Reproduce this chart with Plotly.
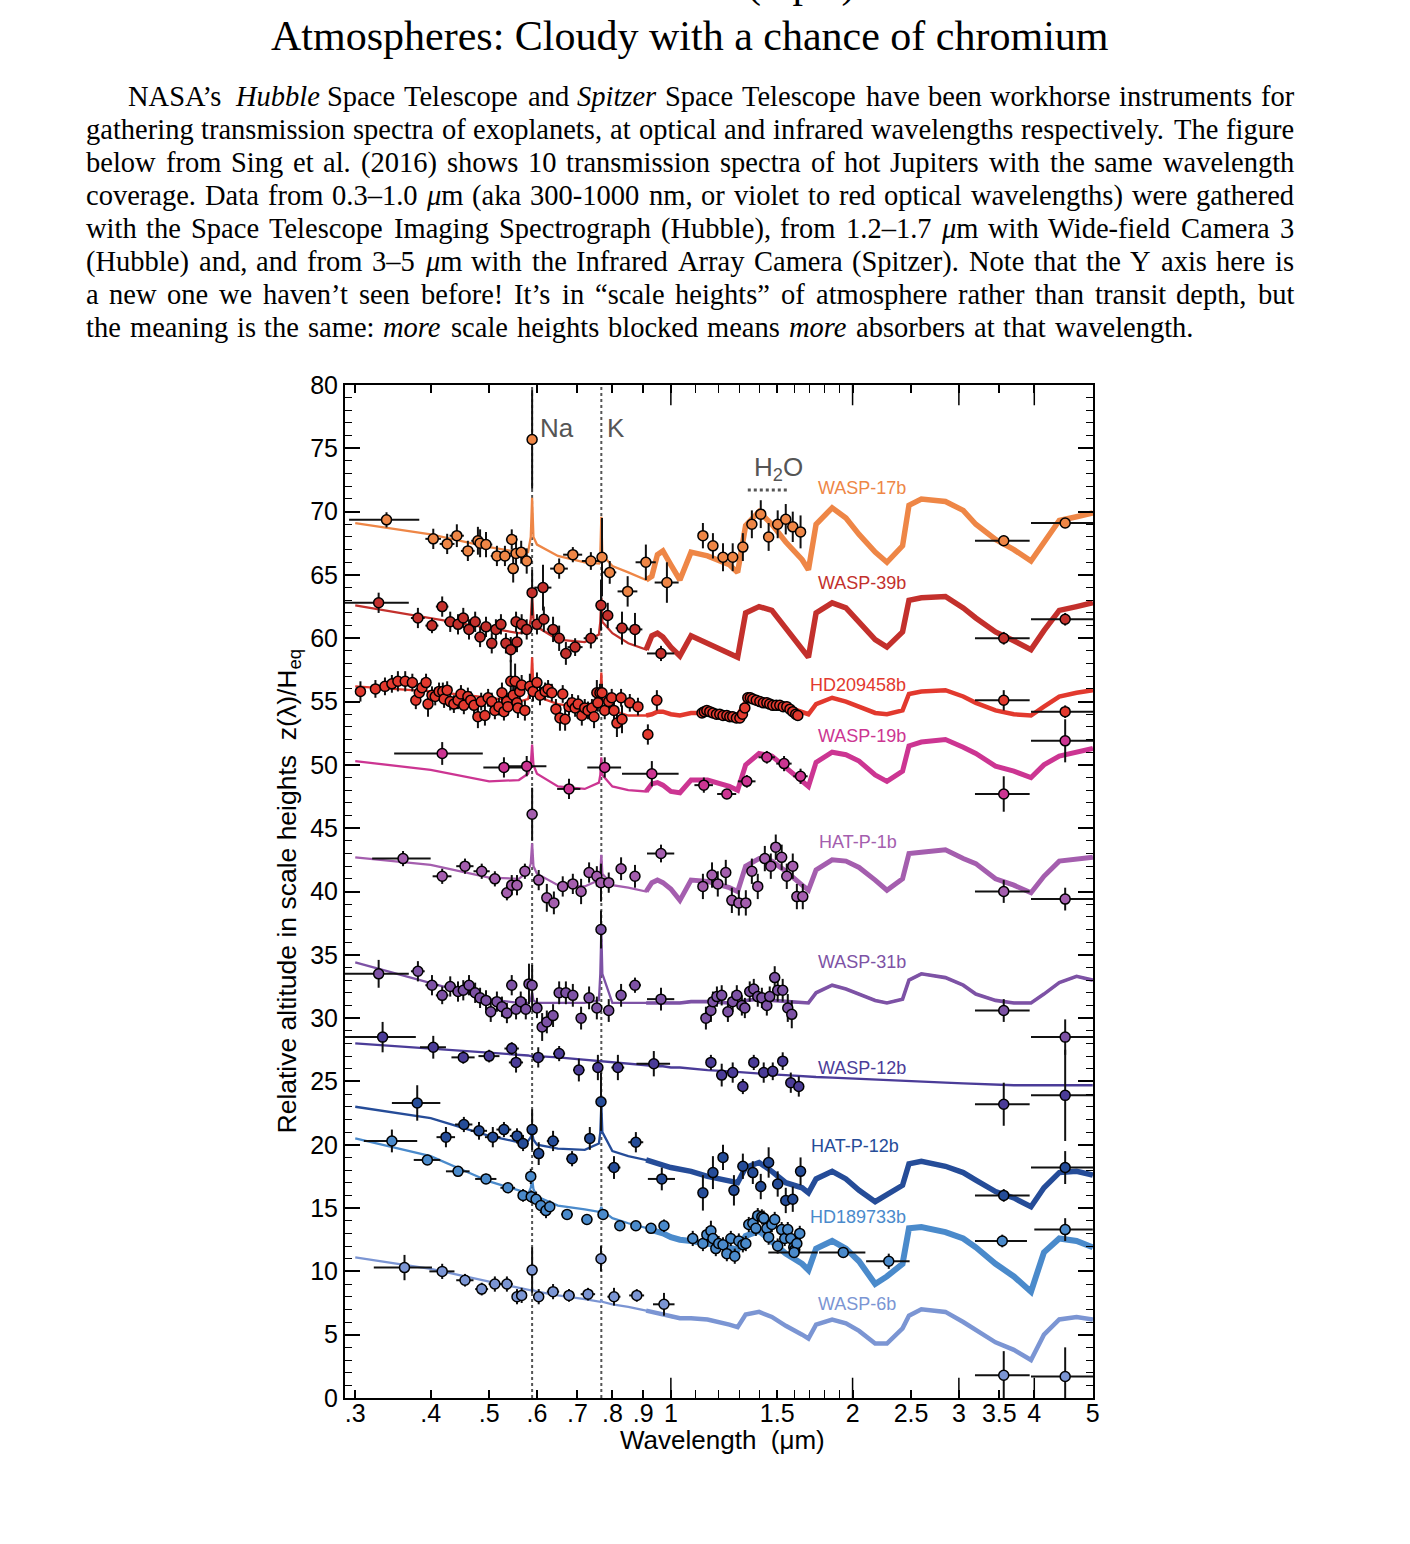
import math
import plotly.graph_objects as go

# ---------------- data ----------------
MODEL_WL = [0.30, 0.40, 0.50, 0.56, 0.58, 0.586, 0.589, 0.592, 0.60, 0.65,
            0.72, 0.76, 0.764, 0.767, 0.770, 0.80, 0.85, 0.91, 0.93, 0.95,
            0.97, 1.00, 1.035, 1.08, 1.15, 1.25, 1.29, 1.33, 1.40, 1.47,
            1.55, 1.65, 1.69, 1.74, 1.85, 1.95, 2.05, 2.18, 2.28, 2.42,
            2.48, 2.60, 2.85, 3.05, 3.20, 3.45, 3.70, 3.95, 4.15, 4.40,
            4.70, 5.00]

W17_MODEL = [69.1, 68.2, 67.2, 66.8, 66.8, 68.0, 71.1, 68.0, 67.4, 66.5,
             66.0, 65.9, 66.6, 69.6, 66.6, 65.7, 65.2, 64.6, 64.9, 66.6,
             66.9, 65.8, 64.6, 66.8, 66.5, 65.8, 65.2, 68.9, 70.0, 69.0,
             67.6, 66.2, 65.4, 69.0, 70.3, 69.5, 68.2, 66.8, 66.0, 67.3,
             70.5, 71.0, 70.8, 70.1, 69.0, 67.8, 67.0, 66.1, 67.5, 69.3,
             69.6, 69.9]
W39_MODEL = [62.6, 61.6, 60.8, 60.4, 60.5, 61.5, 63.4, 61.5, 60.9, 59.9,
             59.7, 60.3, 61.3, 63.2, 61.3, 60.4, 59.6, 59.1, 60.2, 60.4,
             60.1, 59.3, 58.6, 60.2, 59.6, 58.9, 58.5, 62.0, 62.5, 62.2,
             60.8, 59.2, 58.5, 62.0, 62.8, 62.4, 61.3, 59.9, 59.3, 60.5,
             63.0, 63.2, 63.3, 62.4, 61.6, 60.5, 59.8, 59.1, 60.6, 62.2,
             62.5, 62.8]
HD209_MODEL = [56.2, 55.8, 55.3, 55.0, 55.2, 56.0, 58.5, 56.0, 55.4, 54.8,
               54.5, 54.6, 55.3, 57.3, 55.3, 54.3, 53.9, 53.9, 54.0, 54.2,
               54.2, 54.0, 53.9, 54.1, 54.1, 54.0, 53.9, 55.0, 55.2, 55.0,
               54.6, 54.1, 54.0, 54.8, 55.3, 55.0, 54.6, 54.1, 54.0, 54.3,
               55.6, 55.8, 55.9, 55.4, 54.9, 54.3, 54.0, 53.9, 54.6, 55.4,
               55.7, 55.9]
W19_MODEL = [50.3, 49.6, 48.7, 48.8, 49.3, 50.0, 51.6, 50.0, 49.3, 48.3,
             48.1, 48.6, 49.2, 50.6, 49.2, 48.3, 48.0, 47.9, 48.5, 48.6,
             48.4, 47.9, 47.8, 48.8, 48.8, 48.3, 48.0, 50.0, 50.9, 50.7,
             49.8, 48.7, 48.3, 50.2, 51.0, 50.8, 50.3, 49.2, 48.7, 49.5,
             51.5, 51.8, 52.0, 51.4, 50.9, 49.9, 49.5, 49.0, 50.0, 50.7,
             51.0, 51.3]
HP1_MODEL = [42.7, 42.1, 41.1, 41.0, 41.6, 42.2, 43.8, 42.0, 41.4, 40.5,
             40.4, 40.9, 41.5, 42.9, 41.4, 40.5, 40.3, 40.0, 40.7, 40.9,
             40.7, 40.2, 39.3, 40.9, 40.8, 40.3, 40.0, 42.0, 42.6, 42.4,
             41.6, 40.5, 40.1, 41.7, 42.5, 42.4, 41.9, 40.9, 40.1, 41.0,
             43.0, 43.1, 43.3, 42.6, 42.2, 41.0, 40.5, 39.9, 41.2, 42.4,
             42.6, 42.7]
W31_MODEL = [34.4, 32.8, 31.5, 31.2, 31.2, 31.4, 32.0, 31.4, 31.2, 31.2,
             31.2, 31.4, 33.5, 36.9, 33.5, 31.2, 31.2, 31.2, 31.2, 31.2,
             31.2, 31.2, 31.2, 31.3, 31.3, 31.2, 31.2, 31.4, 31.5, 31.4,
             31.3, 31.2, 31.2, 32.0, 32.6, 32.3, 31.9, 31.4, 31.2, 31.5,
             33.0, 33.5, 33.2, 32.6, 31.9, 31.4, 31.2, 31.2, 31.9, 32.8,
             33.3, 33.0]
W12_MODEL = [28.0, 27.6, 27.3, 27.1, 27.05, 27.0, 27.0, 27.0, 27.0, 26.9,
             26.7, 26.6, 26.6, 26.6, 26.6, 26.5, 26.4, 26.3, 26.25, 26.2,
             26.2, 26.1, 26.1, 26.0, 25.9, 25.8, 25.75, 25.7, 25.6, 25.55,
             25.5, 25.4, 25.4, 25.35, 25.3, 25.25, 25.2, 25.1, 25.1, 25.0,
             25.0, 24.95, 24.9, 24.85, 24.8, 24.75, 24.7, 24.7, 24.7, 24.7,
             24.7, 24.7]
HP12_MODEL = [23.0, 22.1, 20.7, 20.2, 20.3, 20.6, 21.0, 20.4, 20.0, 19.7,
              19.6, 20.1, 21.0, 23.2, 21.0, 19.5, 19.1, 18.8, 18.7, 18.6,
              18.4, 18.2, 18.1, 17.9, 17.5, 17.2, 17.0, 18.2, 18.6, 17.9,
              17.0, 16.6, 16.2, 17.3, 17.9, 17.3, 16.4, 15.5, 16.1, 16.8,
              18.5, 18.7, 18.3, 17.8, 17.2, 16.3, 15.8, 15.1, 16.6, 17.8,
              17.9, 17.6]
HD189_MODEL = [20.5, 19.1, 17.1, 16.4, 16.1, 16.6, 17.3, 16.5, 15.9, 15.2,
               14.9, 14.7, 14.8, 15.1, 14.8, 14.2, 13.8, 13.4, 13.3, 13.2,
               13.0, 12.7, 12.5, 12.4, 12.2, 11.9, 11.7, 12.8, 13.2, 12.4,
               11.4, 10.6, 10.1, 11.8, 12.4, 11.8, 10.8, 9.0, 9.6, 10.6,
               13.4, 13.5, 13.1, 12.6, 11.9, 10.6, 9.6, 8.4, 11.5, 12.6,
               12.4, 11.9]
W6_MODEL = [11.1, 10.2, 9.2, 8.7, 8.5, 8.5, 8.6, 8.5, 8.4, 8.1,
            7.8, 7.6, 7.6, 7.7, 7.6, 7.4, 7.2, 6.9, 6.8, 6.7,
            6.6, 6.4, 6.3, 6.3, 6.2, 5.8, 5.6, 6.6, 6.8, 6.4,
            5.7, 5.0, 4.7, 5.8, 6.2, 5.9, 5.3, 4.3, 4.3, 5.5,
            6.5, 7.0, 6.8, 6.0, 5.4, 4.4, 3.8, 3.0, 5.0, 6.2,
            6.4, 6.2]

# measured points: (wavelength um, z/H, x error, y error)
W17_PTS = [(0.338, 69.35, 0.045, 0.6), (0.404, 67.85, 0.012, 0.8), (0.426, 67.45, 0.012, 0.8),
           (0.442, 68.1, 0.012, 0.9), (0.461, 66.9, 0.012, 0.8), (0.479, 67.7, 0.012, 1.1),
           (0.483, 67.5, 0.012, 1.1), (0.494, 67.4, 0.012, 1.0), (0.515, 66.5, 0.012, 0.8),
           (0.531, 66.5, 0.012, 0.8), (0.545, 67.8, 0.012, 0.8), (0.548, 65.5, 0.012, 1.1),
           (0.554, 66.7, 0.012, 1.4), (0.565, 66.8, 0.012, 0.9), (0.577, 66.1, 0.012, 1.0),
           (0.589, 75.7, 0.003, 3.9), (0.653, 65.5, 0.022, 0.8), (0.688, 66.6, 0.025, 0.6),
           (0.737, 66.1, 0.025, 0.7), (0.769, 66.4, 0.004, 3.1), (0.792, 65.2, 0.02, 0.9),
           (0.848, 63.7, 0.032, 1.2), (0.909, 66.0, 0.035, 1.4), (0.985, 64.4, 0.045, 1.6),
           (1.13, 68.1, 0.02, 1.0), (1.174, 67.3, 0.02, 1.0), (1.22, 66.4, 0.02, 1.1),
           (1.266, 66.4, 0.02, 1.1), (1.316, 67.2, 0.02, 1.1), (1.362, 69.0, 0.02, 1.1),
           (1.409, 69.8, 0.02, 1.1), (1.452, 68.0, 0.02, 1.1), (1.503, 69.0, 0.02, 1.1),
           (1.55, 69.4, 0.02, 1.2), (1.592, 68.8, 0.02, 1.2), (1.64, 68.4, 0.02, 1.3),
           (3.56, 67.7, 0.37, 0.4), (4.5, 69.1, 0.55, 0.4)]

W39_PTS = [(0.328, 62.8, 0.04, 0.8), (0.381, 61.6, 0.01, 0.8), (0.402, 61.0, 0.01, 0.6),
           (0.418, 62.5, 0.01, 0.8), (0.431, 61.3, 0.01, 0.8), (0.444, 61.1, 0.01, 0.8),
           (0.453, 61.6, 0.01, 0.8), (0.463, 60.7, 0.01, 0.8), (0.474, 61.3, 0.01, 0.8),
           (0.483, 60.1, 0.01, 0.8), (0.494, 60.9, 0.01, 0.8), (0.505, 59.6, 0.01, 0.8),
           (0.513, 60.7, 0.01, 0.8), (0.523, 61.1, 0.01, 0.8), (0.533, 59.6, 0.01, 0.8),
           (0.543, 59.1, 0.01, 1.0), (0.554, 61.3, 0.01, 0.8), (0.556, 59.7, 0.01, 0.8),
           (0.566, 61.1, 0.01, 0.8), (0.577, 60.7, 0.01, 0.8), (0.589, 63.6, 0.003, 1.8),
           (0.600, 61.1, 0.01, 0.8), (0.614, 64.0, 0.02, 1.8), (0.616, 61.5, 0.01, 1.0),
           (0.638, 60.7, 0.015, 1.0), (0.653, 60.0, 0.015, 1.0), (0.670, 58.8, 0.015, 0.9),
           (0.694, 59.3, 0.02, 0.7), (0.737, 60.0, 0.02, 0.8), (0.766, 62.6, 0.004, 2.0),
           (0.786, 61.8, 0.015, 1.0), (0.830, 60.8, 0.02, 1.3), (0.872, 60.7, 0.025, 1.3),
           (0.963, 58.8, 0.05, 0.6), (3.56, 60.0, 0.37, 0.5), (4.5, 61.5, 0.55, 0.5)]

HD209_PTS = [(0.306, 55.8, 0.004, 0.8), (0.324, 56.0, 0.004, 0.7), (0.336, 56.2, 0.004, 0.7),
             (0.345, 56.4, 0.004, 0.7), (0.353, 56.6, 0.004, 0.8), (0.363, 56.6, 0.004, 0.8),
             (0.373, 56.5, 0.004, 0.7), (0.378, 55.1, 0.004, 0.7), (0.383, 55.7, 0.004, 0.7),
             (0.387, 56.1, 0.004, 0.7), (0.393, 56.5, 0.004, 0.7), (0.396, 54.8, 0.004, 1.0),
             (0.402, 55.5, 0.004, 0.7), (0.407, 55.4, 0.004, 0.7), (0.413, 55.8, 0.004, 0.7),
             (0.419, 55.8, 0.004, 0.7), (0.421, 55.2, 0.004, 0.7), (0.426, 55.9, 0.004, 0.7),
             (0.431, 55.0, 0.004, 0.7), (0.437, 54.8, 0.004, 0.7), (0.444, 55.1, 0.004, 0.7),
             (0.449, 55.6, 0.004, 0.7), (0.454, 54.7, 0.004, 0.7), (0.461, 55.4, 0.004, 0.7),
             (0.466, 55.1, 0.004, 0.7), (0.472, 54.7, 0.004, 0.7), (0.479, 53.8, 0.004, 0.9),
             (0.485, 55.0, 0.004, 0.7), (0.492, 53.9, 0.004, 0.8), (0.498, 55.3, 0.004, 0.7),
             (0.505, 55.0, 0.004, 0.7), (0.511, 54.3, 0.004, 0.7), (0.519, 54.6, 0.004, 0.7),
             (0.525, 55.7, 0.004, 0.8), (0.529, 54.2, 0.004, 0.7), (0.535, 55.0, 0.004, 0.7),
             (0.537, 54.6, 0.004, 0.7), (0.543, 56.6, 0.004, 1.7), (0.548, 55.5, 0.004, 0.8),
             (0.552, 56.6, 0.004, 1.4), (0.556, 54.9, 0.004, 0.8), (0.558, 54.5, 0.004, 0.8),
             (0.562, 55.8, 0.004, 0.8), (0.566, 56.3, 0.004, 0.8), (0.573, 54.3, 0.004, 0.8),
             (0.584, 56.2, 0.004, 1.0), (0.591, 55.8, 0.004, 0.8), (0.600, 56.5, 0.004, 0.8),
             (0.607, 55.5, 0.004, 0.8), (0.619, 55.8, 0.004, 0.7), (0.626, 56.0, 0.004, 0.7),
             (0.635, 55.7, 0.004, 0.7), (0.645, 54.4, 0.004, 0.8), (0.655, 53.7, 0.004, 1.0),
             (0.662, 55.6, 0.004, 0.7), (0.668, 53.6, 0.004, 0.9), (0.678, 54.6, 0.004, 0.7),
             (0.686, 54.9, 0.004, 0.7), (0.694, 54.5, 0.004, 0.7), (0.702, 54.8, 0.004, 0.7),
             (0.712, 53.9, 0.004, 0.8), (0.720, 54.5, 0.004, 0.7), (0.729, 54.3, 0.004, 0.7),
             (0.740, 54.5, 0.004, 0.7), (0.746, 53.8, 0.004, 0.9), (0.754, 55.7, 0.004, 1.0),
             (0.757, 54.9, 0.004, 0.7), (0.763, 55.7, 0.004, 0.7), (0.769, 55.7, 0.004, 0.7),
             (0.777, 54.3, 0.004, 0.7), (0.789, 55.0, 0.004, 0.7), (0.798, 55.3, 0.004, 0.7),
             (0.805, 54.3, 0.004, 0.7), (0.814, 53.3, 0.004, 1.1), (0.827, 55.3, 0.004, 0.7),
             (0.830, 53.6, 0.004, 1.1), (0.855, 54.9, 0.004, 0.7), (0.882, 54.6, 0.004, 0.7),
             (0.916, 52.4, 0.004, 0.8), (0.948, 55.1, 0.004, 0.8),
             (1.126, 54.1, 0.004, 0.4), (1.136, 54.2, 0.004, 0.4), (1.147, 54.3, 0.004, 0.4),
             (1.16, 54.2, 0.004, 0.4), (1.174, 54.1, 0.004, 0.4), (1.19, 54.0, 0.004, 0.4),
             (1.205, 54.0, 0.004, 0.4), (1.22, 53.9, 0.004, 0.4), (1.238, 53.9, 0.004, 0.4),
             (1.252, 53.8, 0.004, 0.4), (1.266, 53.8, 0.004, 0.4), (1.284, 53.7, 0.004, 0.4),
             (1.301, 53.7, 0.004, 0.4), (1.314, 54.0, 0.004, 0.4), (1.326, 54.5, 0.004, 0.4),
             (1.341, 55.3, 0.004, 0.4), (1.354, 55.3, 0.004, 0.4), (1.367, 55.2, 0.004, 0.4),
             (1.385, 55.1, 0.004, 0.4), (1.404, 55.0, 0.004, 0.4), (1.423, 54.9, 0.004, 0.4),
             (1.442, 54.9, 0.004, 0.4), (1.458, 54.8, 0.004, 0.4), (1.475, 54.7, 0.004, 0.4),
             (1.495, 54.7, 0.004, 0.4), (1.515, 54.7, 0.004, 0.4), (1.535, 54.6, 0.004, 0.4),
             (1.556, 54.6, 0.004, 0.4), (1.575, 54.4, 0.004, 0.4), (1.592, 54.2, 0.004, 0.4),
             (1.61, 54.0, 0.004, 0.4), (1.623, 53.9, 0.004, 0.4),
             (3.56, 55.1, 0.37, 0.8), (4.5, 54.2, 0.55, 0.5)]

W19_PTS = [(0.418, 50.9, 0.07, 0.9), (0.529, 49.8, 0.04, 0.8), (0.577, 49.9, 0.045, 0.8),
           (0.678, 48.1, 0.03, 0.8), (0.777, 49.8, 0.05, 0.8), (0.93, 49.3, 0.1, 1.0),
           (1.134, 48.4, 0.04, 0.6), (1.238, 47.7, 0.045, 0.4), (1.336, 48.7, 0.045, 0.5),
           (1.442, 50.6, 0.045, 0.5), (1.54, 50.1, 0.045, 0.6), (1.64, 49.1, 0.045, 0.6),
           (3.56, 47.7, 0.37, 1.4), (4.5, 51.9, 0.55, 1.7)]

HP1_PTS = [(0.36, 42.6, 0.04, 0.6), (0.418, 41.2, 0.015, 0.6), (0.456, 42.0, 0.015, 0.6),
           (0.486, 41.6, 0.015, 0.6), (0.511, 41.0, 0.012, 0.6), (0.535, 39.9, 0.012, 0.6),
           (0.545, 40.5, 0.01, 0.8), (0.556, 40.5, 0.01, 0.8), (0.573, 41.6, 0.01, 0.6),
           (0.589, 46.1, 0.003, 2.1), (0.604, 40.9, 0.01, 0.8), (0.623, 39.5, 0.01, 1.1),
           (0.640, 39.1, 0.01, 0.9), (0.662, 40.4, 0.01, 0.8), (0.688, 40.6, 0.01, 0.8),
           (0.710, 40.0, 0.01, 1.0), (0.732, 41.5, 0.01, 0.8), (0.754, 41.2, 0.01, 0.8),
           (0.766, 40.7, 0.004, 1.5), (0.789, 40.7, 0.01, 0.8), (0.827, 41.8, 0.015, 0.9),
           (0.872, 41.2, 0.015, 0.9), (0.963, 43.0, 0.05, 0.7),
           (1.13, 40.4, 0.01, 1.0), (1.17, 41.3, 0.01, 1.0), (1.196, 40.6, 0.01, 1.0),
           (1.233, 41.5, 0.01, 1.0), (1.262, 39.3, 0.01, 1.0), (1.296, 39.1, 0.01, 1.0),
           (1.331, 39.1, 0.01, 1.0), (1.362, 41.6, 0.01, 1.0), (1.393, 40.4, 0.01, 1.0),
           (1.431, 42.6, 0.01, 1.0), (1.464, 42.0, 0.01, 1.0), (1.492, 43.5, 0.01, 1.0),
           (1.526, 42.7, 0.01, 1.0), (1.556, 41.2, 0.01, 1.0), (1.592, 42.0, 0.01, 1.0),
           (1.617, 39.6, 0.01, 1.0), (1.654, 39.6, 0.01, 1.0),
           (3.56, 40.0, 0.37, 0.9), (4.5, 39.4, 0.55, 0.9)]

W31_PTS = [(0.328, 33.5, 0.04, 1.1), (0.381, 33.7, 0.01, 0.8), (0.402, 32.6, 0.01, 0.8),
           (0.418, 31.8, 0.01, 0.7), (0.431, 32.5, 0.01, 0.8), (0.444, 32.1, 0.01, 0.8),
           (0.453, 32.2, 0.01, 0.8), (0.463, 32.6, 0.01, 0.8), (0.474, 32.0, 0.01, 0.8),
           (0.483, 31.6, 0.01, 0.8), (0.494, 31.4, 0.01, 0.8), (0.503, 30.5, 0.01, 0.8),
           (0.515, 31.3, 0.01, 0.8), (0.525, 30.9, 0.01, 0.8), (0.535, 30.4, 0.01, 0.8),
           (0.545, 32.6, 0.01, 0.8), (0.554, 30.7, 0.01, 0.8), (0.564, 31.3, 0.01, 0.8),
           (0.575, 30.7, 0.01, 0.8), (0.582, 32.7, 0.005, 1.6), (0.589, 32.6, 0.003, 1.6),
           (0.600, 30.8, 0.01, 0.8), (0.612, 29.3, 0.01, 1.1), (0.623, 29.7, 0.01, 0.9),
           (0.638, 30.2, 0.01, 0.9), (0.653, 32.0, 0.01, 0.9), (0.670, 32.0, 0.01, 0.9),
           (0.688, 31.8, 0.01, 0.9), (0.710, 30.0, 0.01, 0.9), (0.732, 31.6, 0.01, 0.9),
           (0.754, 30.8, 0.01, 0.9), (0.766, 37.0, 0.004, 1.5), (0.789, 30.6, 0.015, 0.9),
           (0.827, 31.8, 0.015, 0.9), (0.872, 32.6, 0.02, 0.6), (0.963, 31.5, 0.05, 0.9),
           (1.143, 30.0, 0.005, 0.9), (1.165, 30.6, 0.005, 0.9), (1.174, 31.3, 0.005, 0.8),
           (1.192, 31.7, 0.005, 0.8), (1.214, 31.8, 0.005, 0.8), (1.243, 30.5, 0.005, 0.8),
           (1.266, 31.3, 0.005, 0.8), (1.286, 31.8, 0.005, 0.8), (1.311, 31.0, 0.005, 0.8),
           (1.326, 30.8, 0.005, 0.8), (1.351, 32.1, 0.005, 0.8), (1.372, 32.3, 0.005, 0.8),
           (1.393, 31.7, 0.005, 0.8), (1.415, 31.6, 0.005, 0.8), (1.442, 31.0, 0.005, 0.8),
           (1.458, 31.7, 0.005, 0.8), (1.486, 33.2, 0.005, 0.9), (1.503, 32.2, 0.005, 0.9),
           (1.532, 32.2, 0.005, 0.9), (1.562, 30.8, 0.005, 1.1), (1.586, 30.3, 0.005, 1.1),
           (3.56, 30.6, 0.37, 0.9), (4.5, 28.5, 0.55, 1.4)]

W12_PTS = [(0.333, 28.5, 0.045, 1.2), (0.404, 27.7, 0.02, 0.9), (0.453, 26.9, 0.02, 0.5),
           (0.50, 27.0, 0.02, 0.5), (0.545, 27.6, 0.015, 0.5), (0.554, 26.5, 0.015, 0.8),
           (0.603, 26.9, 0.015, 0.8), (0.653, 27.2, 0.015, 0.6), (0.704, 25.9, 0.015, 0.9),
           (0.757, 26.1, 0.015, 1.0), (0.817, 26.1, 0.02, 1.0), (0.937, 26.4, 0.06, 1.0),
           (1.165, 26.5, 0.01, 0.6), (1.214, 25.5, 0.01, 0.9), (1.266, 25.7, 0.01, 0.8),
           (1.316, 24.6, 0.01, 0.6), (1.372, 26.5, 0.01, 0.6), (1.425, 25.7, 0.01, 0.8),
           (1.475, 25.8, 0.01, 0.7), (1.532, 26.6, 0.01, 0.7), (1.58, 24.9, 0.01, 0.8),
           (1.629, 24.6, 0.01, 0.8), (3.56, 23.2, 0.37, 1.7), (4.5, 23.9, 0.55, 3.6)]

HP12_PTS = [(0.380, 23.3, 0.035, 1.4), (0.424, 20.6, 0.015, 0.8), (0.454, 21.6, 0.015, 0.6),
            (0.481, 21.1, 0.015, 0.7), (0.507, 20.6, 0.015, 0.8), (0.529, 21.2, 0.015, 0.6),
            (0.556, 20.7, 0.015, 0.6), (0.569, 20.1, 0.012, 0.6), (0.589, 21.2, 0.003, 1.6),
            (0.604, 19.3, 0.012, 0.9), (0.638, 20.3, 0.015, 0.8), (0.686, 18.9, 0.015, 0.6),
            (0.734, 20.5, 0.015, 0.9), (0.766, 23.4, 0.004, 2.3), (0.805, 18.2, 0.02, 0.9),
            (0.875, 20.2, 0.025, 0.8), (0.966, 17.3, 0.05, 0.9),
            (1.13, 16.2, 0.005, 1.4), (1.174, 17.8, 0.005, 1.3), (1.22, 19.0, 0.005, 1.0),
            (1.272, 16.4, 0.005, 1.2), (1.316, 18.3, 0.005, 1.0), (1.367, 17.8, 0.005, 0.9),
            (1.409, 16.7, 0.005, 1.0), (1.452, 18.6, 0.005, 1.2), (1.503, 16.9, 0.005, 1.0),
            (1.55, 15.6, 0.005, 1.0), (1.592, 15.7, 0.005, 1.0), (1.64, 17.9, 0.005, 1.1),
            (3.56, 16.0, 0.37, 0.5), (4.5, 18.2, 0.55, 1.3)]

HD189_PTS = [(0.345, 20.3, 0.035, 0.9), (0.395, 18.8, 0.02, 0.4), (0.444, 17.9, 0.02, 0.4),
             (0.494, 17.3, 0.02, 0.4), (0.537, 16.6, 0.015, 0.4), (0.569, 16.0, 0.01, 0.5),
             (0.586, 17.5, 0.003, 0.6), (0.587, 15.9, 0.003, 0.5), (0.598, 15.7, 0.01, 0.6),
             (0.609, 15.2, 0.01, 0.6), (0.621, 14.8, 0.01, 0.6), (0.630, 15.1, 0.01, 0.5),
             (0.673, 14.5, 0.015, 0.3), (0.726, 14.1, 0.015, 0.3), (0.772, 14.5, 0.015, 0.4),
             (0.823, 13.6, 0.015, 0.3), (0.875, 13.6, 0.015, 0.3), (0.927, 13.4, 0.015, 0.3),
             (0.974, 13.6, 0.015, 0.5),
             (1.087, 12.6, 0.005, 0.6), (1.13, 12.2, 0.005, 0.6), (1.147, 12.9, 0.005, 0.6),
             (1.165, 13.2, 0.005, 0.8), (1.174, 12.6, 0.005, 0.6), (1.187, 11.8, 0.005, 0.6),
             (1.20, 12.2, 0.005, 0.6), (1.22, 12.1, 0.005, 0.6), (1.238, 11.4, 0.005, 0.6),
             (1.257, 12.6, 0.005, 0.6), (1.276, 11.2, 0.005, 0.6), (1.296, 12.4, 0.005, 0.6),
             (1.316, 12.1, 0.005, 0.6), (1.331, 12.2, 0.005, 0.6), (1.346, 13.7, 0.005, 0.6),
             (1.367, 13.8, 0.005, 0.6), (1.383, 13.4, 0.005, 0.6), (1.393, 14.4, 0.005, 0.6),
             (1.415, 14.3, 0.005, 0.6), (1.425, 14.2, 0.005, 0.6), (1.442, 13.4, 0.005, 0.6),
             (1.452, 12.7, 0.005, 0.6), (1.47, 13.7, 0.005, 0.6), (1.486, 14.1, 0.005, 0.6),
             (1.503, 12.0, 0.005, 0.6), (1.526, 13.3, 0.005, 0.6), (1.544, 12.6, 0.005, 0.6),
             (1.562, 13.3, 0.005, 0.6), (1.58, 12.6, 0.005, 0.6), (1.598, 11.9, 0.005, 0.6),
             (1.604, 11.7, 0.005, 0.6), (1.617, 12.2, 0.005, 0.6), (1.635, 13.0, 0.005, 0.6),
             (1.60, 11.5, 0.15, 0.4), (1.93, 11.5, 0.17, 0.4), (2.296, 10.8, 0.19, 0.6),
             (3.54, 12.4, 0.35, 0.5), (4.5, 13.3, 0.5, 0.9)]

W6_PTS = [(0.362, 10.3, 0.04, 1.0), (0.418, 10.0, 0.02, 0.6), (0.456, 9.3, 0.015, 0.5),
          (0.486, 8.6, 0.012, 0.5), (0.511, 9.0, 0.012, 0.6), (0.535, 9.0, 0.012, 0.6),
          (0.556, 8.0, 0.01, 0.6), (0.566, 8.1, 0.01, 0.6), (0.589, 10.1, 0.003, 1.8),
          (0.604, 8.0, 0.012, 0.6), (0.638, 8.4, 0.015, 0.6), (0.678, 8.1, 0.015, 0.5),
          (0.729, 8.2, 0.02, 0.5), (0.766, 11.0, 0.004, 1.0), (0.805, 8.0, 0.02, 0.7),
          (0.878, 8.1, 0.025, 0.5), (0.974, 7.4, 0.04, 0.9),
          (3.56, 1.8, 0.37, 1.9), (4.5, 1.7, 0.55, 2.3)]

PLANET_NAMES = ["WASP-17b", "WASP-39b", "HD209458b", "WASP-19b", "HAT-P-1b",
                "WASP-31b", "WASP-12b", "HAT-P-12b", "HD189733b", "WASP-6b"]
PLANET_COLORS = ["#EE8646", "#C3302C", "#E2392E", "#CC3592", "#A45EAE",
                 "#7D52A5", "#4B3C98", "#254C98", "#4A8ACB", "#7B95D3"]
PLANET_MODELS = [W17_MODEL, W39_MODEL, HD209_MODEL, W19_MODEL, HP1_MODEL,
                 W31_MODEL, W12_MODEL, HP12_MODEL, HD189_MODEL, W6_MODEL]
PLANET_POINTS = [W17_PTS, W39_PTS, HD209_PTS, W19_PTS, HP1_PTS,
                 W31_PTS, W12_PTS, HP12_PTS, HD189_PTS, W6_PTS]
# infrared line thickness (the model is a dense, noisy band there); 0 = no band
IR_WIDTH = [5.5, 5.5, 4.5, 5.0, 5.0, 3.6, 0, 5.5, 6.0, 4.5]
# label anchor (right end) position in data units
LABEL_WL = [2.47, 2.47, 2.47, 2.47, 2.39, 2.47, 2.47, 2.41, 2.47, 2.38]
LABEL_Z = [71.9, 64.4, 56.3, 52.3, 43.9, 34.4, 26.1, 19.9, 14.3, 7.4]

X_TICKS = [0.3, 0.4, 0.5, 0.6, 0.7, 0.8, 0.9, 1.0, 1.5, 2.0, 2.5, 3.0, 3.5, 4.0, 5.0]
X_TICK_TEXT = [".3", ".4", ".5", ".6", ".7", ".8", ".9", "1", "1.5", "2", "2.5", "3", "3.5", "4", "5"]
X_MINOR = [1.1, 1.2, 1.3, 1.4, 1.6, 1.7, 1.8, 1.9]
X_TALL = [1.0, 2.0, 3.0, 4.0]
NA_WL, K_WL = 0.589, 0.767

TITLE = "Atmospheres: Cloudy with a chance of chromium"
PARA_LINES = [
    "NASA’s _Hubble_ Space Telescope and _Spitzer_ Space Telescope have been workhorse instruments for",
    "gathering transmission spectra of exoplanets, at optical and infrared wavelengths respectively. The figure",
    "below from Sing et al. (2016) shows 10 transmission spectra of hot Jupiters with the same wavelength",
    "coverage. Data from 0.3–1.0 μm (aka 300-1000 nm, or violet to red optical wavelengths) were gathered",
    "with the Space Telescope Imaging Spectrograph (Hubble), from 1.2–1.7 μm with Wide-field Camera 3",
    "(Hubble) and, and from 3–5 μm with the Infrared Array Camera (Spitzer). Note that the Y axis here is",
    "a new one we haven’t seen before! It’s in “scale heights” of atmosphere rather than transit depth, but",
    "the meaning is the same: _more_ scale heights blocked means _more_ absorbers at that wavelength.",
]

# ---------------- layout helpers (page geometry in pixels) ----------------
W, H = 1410, 1544
PL, PR, PT, PB = 345, 1093, 385, 1398


def pxx(px):
    return (px - PL) / (PR - PL)


def pxy(py):
    return (PB - py) / (PB - PT)


TR = dict(zip("abcdefghijklmnopqrstuvwxyz",
              [444, 500, 444, 500, 444, 333, 500, 500, 278, 278, 500, 278, 778, 500, 500, 500,
               500, 333, 389, 278, 500, 500, 722, 500, 500, 444]))
TR.update(zip("ABCDEFGHIJKLMNOPQRSTUVWXYZ",
              [722, 667, 667, 722, 611, 556, 722, 722, 333, 389, 722, 611, 889, 722, 722, 556,
               722, 667, 556, 611, 722, 722, 944, 722, 722, 611]))
TR.update({c: 500 for c in "0123456789"})
TR.update({' ': 250, '.': 250, ',': 250, ':': 278, ';': 278, '(': 333, ')': 333, '-': 333,
           '–': 500, '’': 333, '“': 444, '”': 444, '!': 333, 'μ': 520})
TI = dict(TR)
TI.update(zip("abcdefghijklmnopqrstuvwxyz",
              [500, 500, 444, 500, 444, 278, 500, 500, 278, 278, 444, 278, 722, 500, 500, 500,
               500, 389, 389, 278, 500, 444, 667, 444, 444, 389]))
TI.update({'H': 722, 'S': 500})

FS = 28.5
annotations = []


def word_info(w):
    if w.startswith("_") and w.endswith("_"):
        t = w[1:-1]
        return "<i>" + t + "</i>", sum(TI.get(c, 500) for c in t) / 1000 * FS
    width = sum(TR.get(c, 500) for c in w) / 1000 * FS
    return w.replace("μ", "<i>μ</i>"), width


for i, line in enumerate(PARA_LINES):
    words = [word_info(w) for w in line.split(" ")]
    left = 127 if i == 0 else 85
    right = 1293
    total = sum(wd for _, wd in words)
    if i == len(PARA_LINES) - 1:
        gap = 0.31 * FS
    else:
        gap = (right - left - total) / (len(words) - 1)
    x = left
    cy = 97 + 32.9 * i
    for html, wd in words:
        annotations.append(dict(x=pxx(x), y=pxy(cy), xref="paper", yref="paper", text=html,
                                showarrow=False, xanchor="left", yanchor="middle", borderpad=0,
                                font=dict(family="Liberation Serif", size=FS, color="black")))
        x += wd + gap

annotations.append(dict(x=pxx(690), y=pxy(36), xref="paper", yref="paper", text=TITLE,
                        showarrow=False, xanchor="center", yanchor="middle",
                        font=dict(family="Liberation Serif", size=42, color="black")))
annotations.append(dict(x=pxx(745), y=pxy(-16), xref="paper", yref="paper", text="(5 pts)",
                        showarrow=False, xanchor="left", yanchor="middle",
                        font=dict(family="Liberation Serif", size=42, color="black")))

# axis titles
annotations.append(dict(x=pxx(288), y=0.5, xref="paper", yref="paper", textangle=-90,
                        text="Relative altitude in scale heights\u00a0\u00a0z(λ)/H<sub>eq</sub>",
                        showarrow=False, xanchor="center", yanchor="middle",
                        font=dict(family="Liberation Sans", size=26.5, color="black")))
annotations.append(dict(x=pxx(722), y=pxy(1440), xref="paper", yref="paper",
                        text="Wavelength\u00a0\u00a0(μm)", showarrow=False,
                        xanchor="center", yanchor="middle",
                        font=dict(family="Liberation Sans", size=26, color="black")))

# species labels
annotations.append(dict(x=math.log10(0.602), y=76.6, xref="x", yref="y", text="Na", showarrow=False,
                        xanchor="left", yanchor="middle",
                        font=dict(family="Liberation Sans", size=26, color="#555555")))
annotations.append(dict(x=math.log10(0.777), y=76.6, xref="x", yref="y", text="K", showarrow=False,
                        xanchor="left", yanchor="middle",
                        font=dict(family="Liberation Sans", size=26, color="#555555")))
annotations.append(dict(x=math.log10(1.509), y=73.4, xref="x", yref="y", text="H<sub>2</sub>O",
                        showarrow=False, xanchor="center", yanchor="middle",
                        font=dict(family="Liberation Sans", size=26, color="#555555")))

for name, col, lw, lz in zip(PLANET_NAMES, PLANET_COLORS, LABEL_WL, LABEL_Z):
    annotations.append(dict(x=math.log10(lw), y=lz, xref="x", yref="y", text=name, showarrow=False,
                            xanchor="right", yanchor="middle",
                            font=dict(family="Liberation Sans", size=18, color=col)))

# ---------------- traces ----------------
fig = go.Figure()
IR_START = MODEL_WL.index(0.91)
for name, col, model, irw in zip(PLANET_NAMES, PLANET_COLORS, PLANET_MODELS, IR_WIDTH):
    fig.add_trace(go.Scatter(x=MODEL_WL, y=model, mode="lines", line=dict(color=col, width=2.3),
                             hoverinfo="skip"))
    if irw > 0:
        fig.add_trace(go.Scatter(x=MODEL_WL[IR_START:], y=model[IR_START:], mode="lines",
                                 line=dict(color=col, width=irw), hoverinfo="skip"))

for name, col, pts in zip(PLANET_NAMES, PLANET_COLORS, PLANET_POINTS):
    wl = [p[0] for p in pts]
    z = [p[1] for p in pts]
    dx = [p[2] for p in pts]
    dz = [p[3] for p in pts]
    fig.add_trace(go.Scatter(
        x=wl, y=z, mode="markers",
        marker=dict(size=10, color=col, line=dict(color="black", width=1.5)),
        error_x=dict(type="data", array=dx, color="#111111", thickness=2, width=0),
        error_y=dict(type="data", array=dz, color="#111111", thickness=2, width=0),
        hoverinfo="skip"))

# ---------------- shapes ----------------
shapes = []
for lam in (NA_WL, K_WL):
    shapes.append(dict(type="line", xref="x", yref="paper", x0=lam, x1=lam, y0=0, y1=1,
                       line=dict(color="#555555", width=2, dash="dot"), layer="below"))
shapes.append(dict(type="line", xref="x", yref="y", x0=1.341, x1=1.574, y0=71.7, y1=71.7,
                   line=dict(color="#555555", width=3, dash="dot")))
for lam in X_TALL:
    shapes.append(dict(type="line", xref="x", yref="y", x0=lam, x1=lam, y0=0, y1=1.6,
                       line=dict(color="black", width=1.5)))
    shapes.append(dict(type="line", xref="x", yref="y", x0=lam, x1=lam, y0=78.4, y1=80,
                       line=dict(color="black", width=1.5)))

fig.update_layout(
    width=W, height=H,
    margin=dict(l=PL, r=W - PR, t=PT, b=H - PB),
    paper_bgcolor="white", plot_bgcolor="white",
    showlegend=False, hovermode=False,
    font=dict(family="Liberation Sans", color="black"),
    annotations=annotations, shapes=shapes,
    xaxis=dict(type="log", range=[math.log10(0.2885), math.log10(5.004)],
               tickmode="array", tickvals=X_TICKS, ticktext=X_TICK_TEXT,
               ticks="inside", ticklen=8, tickwidth=1.5, tickcolor="black",
               showline=True, linecolor="black", linewidth=2, mirror="ticks",
               showgrid=False, zeroline=False, ticklabelstandoff=-8,
               tickfont=dict(family="Liberation Sans", size=25, color="black"),
               minor=dict(tickvals=X_MINOR, ticks="inside", ticklen=8, tickwidth=1.2,
                          tickcolor="black", showgrid=False)),
    yaxis=dict(range=[0, 80], tickmode="array", tickvals=list(range(0, 81, 5)),
               ticks="inside", ticklen=15, tickwidth=1.5, tickcolor="black",
               showline=True, linecolor="black", linewidth=2, mirror="ticks",
               showgrid=False, zeroline=False,
               tickfont=dict(family="Liberation Sans", size=25, color="black"),
               minor=dict(dtick=1, ticks="inside", ticklen=7, tickwidth=1.2,
                          tickcolor="black", showgrid=False)),
)

fig.write_html("out.html", config={"displayModeBar": False},
               post_script="document.body.style.margin='0';document.body.style.overflow='hidden';")
